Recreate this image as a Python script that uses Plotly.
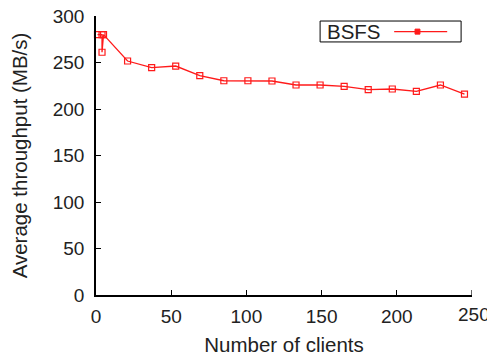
import plotly.graph_objects as go

clients = [1, 4, 4, 5, 21, 37, 53, 69, 85, 101, 117, 133, 149, 165, 181, 197, 213, 229, 245]
throughput = [280, 280, 261, 280, 251.6, 244.4, 246.2, 235.8, 230.4, 230.4, 230.1, 225.8,
              225.8, 224.4, 220.8, 221.5, 219.0, 225.8, 216.1]
series_name = "BSFS"
x_ticks = [0, 50, 100, 150, 200, 250]
y_ticks = [0, 50, 100, 150, 200, 250, 300]

RED = "#ff1a1a"
FONT = "Liberation Sans, Arial"
FS = 19
FT = 20.5
fig = go.Figure()
fig.add_trace(go.Scatter(
    x=clients, y=throughput, mode="lines+markers", name=series_name,
    line=dict(color=RED, width=1.3),
    marker=dict(symbol="square-open", size=6, color=RED, line=dict(width=1.2, color=RED)),
    showlegend=False, cliponaxis=False,
))

# legend box (text left of symbol, as in reference)
fig.add_shape(type="rect", xref="paper", yref="paper", x0=0.596, x1=0.971, y0=0.907, y1=0.982,
              line=dict(color="black", width=1), fillcolor="white")
fig.add_annotation(xref="paper", yref="paper", x=0.609, y=0.944, text=series_name,
                   showarrow=False, xanchor="left", yanchor="middle",
                   font=dict(family=FONT, size=FT, color="#222"))
fig.add_shape(type="line", xref="paper", yref="paper", x0=0.793, x1=0.934, y0=0.944, y1=0.944,
              line=dict(color=RED, width=1.3))
fig.add_shape(type="rect", xref="paper", yref="paper", x0=0.8485, x1=0.8615, y0=0.935, y1=0.953,
              line=dict(color=RED, width=1), fillcolor=RED)

# last x tick label (clipped by the page edge, as in the reference)
fig.add_annotation(xref="x", yref="paper", x=x_ticks[-1], y=0, yshift=-7, xshift=-16,
                   text=str(x_ticks[-1]), showarrow=False, xanchor="left", yanchor="top",
                   font=dict(family=FONT, size=FS, color="#222"))

axis_common = dict(showgrid=False, zeroline=False, showline=True, linecolor="black", linewidth=1.5,
                   ticks="inside", ticklen=5, tickcolor="black", tickwidth=1.2,
                   tickfont=dict(family=FONT, size=FS, color="#222"))
fig.update_layout(
    width=487, height=360,
    margin=dict(l=96, r=15, t=16, b=65),
    paper_bgcolor="white", plot_bgcolor="white",
    xaxis=dict(range=[0, 250], tickvals=x_ticks[:-1], ticktext=[str(v) for v in x_ticks[:-1]],
               automargin=False, ticklabelstandoff=3,
               title=dict(text="Number of clients", standoff=12,
                          font=dict(family=FONT, size=FT, color="#222")),
               **axis_common),
    yaxis=dict(range=[0, 300], tickvals=y_ticks, ticktext=[str(v) for v in y_ticks],
               automargin=False, ticklabelstandoff=6,
               title=dict(text="Average throughput (MB/s)", standoff=20,
                          font=dict(family=FONT, size=FT, color="#222")),
               **axis_common),
)
fig.add_shape(type="line", xref="x", yref="paper", x0=x_ticks[-1], x1=x_ticks[-1], y0=0, y1=0.018,
              line=dict(color="black", width=1.2))
fig.write_html("out.html")
